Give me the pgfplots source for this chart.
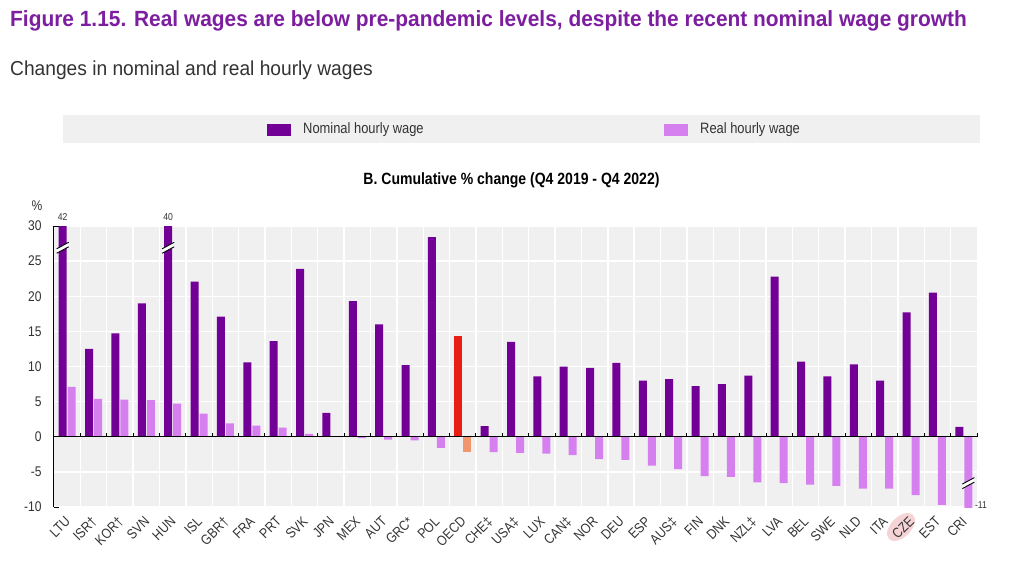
\documentclass[border=0pt]{standalone}
\usepackage{pgfplots}
\pgfplotsset{compat=1.18}
\usepackage{fontspec}
\setmainfont{Liberation Sans}[FakeStretch=0.86]
\newfontfamily\headfont{Liberation Sans}[FakeStretch=0.95]
\definecolor{nom}{RGB}{115,0,150}
\definecolor{rea}{RGB}{214,128,240}
\definecolor{oecdn}{RGB}{232,30,20}
\definecolor{oecdr}{RGB}{242,150,110}
\definecolor{ttl}{RGB}{125,30,160}
\definecolor{bg}{RGB}{240,240,240}
\definecolor{txt}{RGB}{51,51,51}
\definecolor{hl}{RGB}{246,212,214}

% idx nominal real (OECD, idx 15, is drawn on its own)
\pgfplotstableread{
idx nom real
0 42 7.1
1 12.5 5.4
2 14.7 5.3
3 19.0 5.2
4 40 4.7
5 22.1 3.3
6 17.1 1.9
7 10.6 1.6
8 13.6 1.3
9 23.9 0.4
10 3.4 0.0
11 19.3 -0.2
12 16.0 -0.4
13 10.2 -0.5
14 28.4 -1.6
16 1.5 -2.2
17 13.5 -2.3
18 8.6 -2.4
19 10.0 -2.6
20 9.8 -3.2
21 10.5 -3.3
22 8.0 -4.1
23 8.2 -4.6
24 7.2 -5.6
25 7.5 -5.7
26 8.7 -6.5
27 22.8 -6.6
28 10.7 -6.8
29 8.6 -7.0
30 10.3 -7.4
31 8.0 -7.4
32 17.7 -8.3
33 20.5 -9.7
34 1.4 -11
}\wages

\newcommand{\brk}[2]{%
  \begin{scope}[shift={(axis cs:#1,#2)}]
    \fill[white] (-6bp,-5.5bp) -- (6bp,1bp) -- (6bp,5.5bp) -- (-6bp,-1bp) -- cycle;
    \draw[black, line width=0.9bp] (-6bp,-5.5bp) -- (6bp,1bp);
    \draw[black, line width=0.9bp] (-6bp,-1bp) -- (6bp,5.5bp);
  \end{scope}}

\begin{document}
\begin{tikzpicture}
\path[use as bounding box, fill=white] (0,0) rectangle (1024bp,-576bp);

% titles
\node[anchor=base west, inner sep=0pt, text=ttl, font=\headfont\fontsize{22bp}{26bp}\selectfont\bfseries]
  at (10bp,-26bp) {Figure 1.15. Real wages are below pre-pandemic levels, despite the recent nominal wage growth};
\node[anchor=base west, inner sep=0pt, text=txt, font=\headfont\fontsize{20.2bp}{24bp}\selectfont]
  at (10bp,-75bp) {Changes in nominal and real hourly wages};

% legend band
\fill[bg] (63bp,-115bp) rectangle (980bp,-143bp);
\fill[nom] (267bp,-124bp) rectangle (291bp,-136bp);
\node[anchor=west, inner sep=0pt, text=txt, font=\fontsize{15bp}{18bp}\selectfont] at (303bp,-130bp) {Nominal hourly wage};
\fill[rea] (664bp,-124bp) rectangle (688bp,-136bp);
\node[anchor=west, inner sep=0pt, text=txt, font=\fontsize{15bp}{18bp}\selectfont] at (700bp,-130bp) {Real hourly wage};

\node[inner sep=0pt, text=black, font=\fontsize{16.3bp}{19bp}\selectfont\bfseries]
  at (511.5bp,-180bp) {B. Cumulative \% change (Q4 2019 - Q4 2022)};
\node[inner sep=0pt, text=txt, font=\fontsize{14bp}{16bp}\selectfont] at (37bp,-206bp) {\%};

% highlight behind CZE
\fill[hl, rotate around={45:(901bp,-527bp)}] (901bp,-527bp) ellipse (17bp and 10bp);

\begin{axis}[
  at={(54bp,-507bp)}, anchor=south west,
  scale only axis, width=923bp, height=281bp,
  xmin=-0.5, xmax=34.5, ymin=-10, ymax=30,
  clip mode=individual,
  ybar, bar width=8bp,
  ytick={-10,-5,...,30},
  xtick={0,...,34},
  xticklabels={LTU,ISR†,KOR†,SVN,HUN,ISL,GBR†,FRA,PRT,SVK,JPN,MEX,AUT,GRC*,POL,OECD,CHE‡,USA‡,LUX,CAN‡,NOR,DEU,ESP,AUS‡,FIN,DNK,NZL‡,LVA,BEL,SWE,NLD,ITA,CZE,EST,CRI},
  minor xtick={0.5,1.5,...,33.5},
  xminorgrids, ymajorgrids,
  grid style={white, line width=1.4bp},
  minor grid style={white, line width=1.4bp},
  axis background/.style={fill=bg},
  axis y line*=left, axis x line*=bottom,
  x axis line style={draw=none},
  y axis line style={black, line width=1bp},
  major tick length=0pt, minor tick length=0pt,
  /pgf/number format/assume math mode=true,
  yticklabel style={text=txt, font=\fontsize{14bp}{16bp}\selectfont, xshift=-9bp},
  xticklabel style={text=txt, font=\fontsize{14bp}{16bp}\selectfont, xshift=-3bp, yshift=-8.5bp, rotate=45, anchor=north east, inner sep=0pt},
]
\addplot[fill=nom, draw=none, bar shift=-4.5bp] table[x=idx, y=nom] {\wages};
\addplot[fill=rea, draw=none, bar shift=4.5bp] table[x=idx, y=real] {\wages};
\addplot[fill=oecdn, draw=none, bar shift=-4.5bp] coordinates {(15,14.3)};
\addplot[fill=oecdr, draw=none, bar shift=4.5bp] coordinates {(15,-2.2)};

% zero line with boundary ticks
\draw[black, line width=1.2bp] (axis cs:-0.5,0) -- (axis cs:34.5,0);
\pgfplotsinvokeforeach{0.5,1.5,...,34.5}{\draw[black, line width=1bp] (axis cs:#1,0) -- (axis cs:#1,0.6);}
\draw[black, line width=1bp] (axis cs:-0.5,-10) -- (axis cs:-0.3,-10);
\draw[black, line width=1bp] (axis cs:-0.5,30) -- (axis cs:-0.3,30);

% axis breaks and true values
\begin{scope}[xshift=-4.5bp]\brk{0}{26.9}\brk{4}{26.9}\end{scope}
\begin{scope}[xshift=4.5bp]\brk{34}{-6.6}\end{scope}
\node[font=\fontsize{10bp}{12bp}\selectfont, text=txt, anchor=south, inner sep=1bp] at ([xshift=-4.5bp, yshift=4bp]axis cs:0,30) {42};
\node[font=\fontsize{10bp}{12bp}\selectfont, text=txt, anchor=south, inner sep=1bp] at ([xshift=-4.5bp, yshift=4bp]axis cs:4,30) {40};
\node[font=\fontsize{10bp}{12bp}\selectfont, text=txt, anchor=west, inner sep=1bp] at ([xshift=10bp]axis cs:34,-9.7) {-11};
\end{axis}
\end{tikzpicture}
\end{document}
